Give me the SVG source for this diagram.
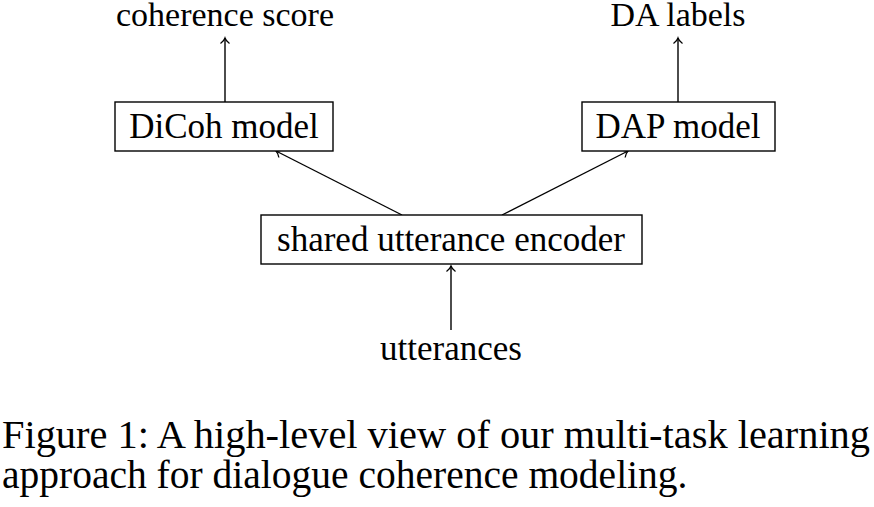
<svg xmlns="http://www.w3.org/2000/svg" width="874" height="507" viewBox="0 0 874 507">
<style>
text{font-family:"Liberation Serif","Times New Roman",serif;fill:#000}
.l{font-size:35px;text-anchor:middle}
.t{font-size:34px}
.c{font-size:39.5px}
rect{fill:#fff;stroke:#000;stroke-width:1.4}
.e{stroke:#000;stroke-width:1.4;fill:none;marker-end:url(#a)}
</style>
<defs>
<marker id="a" markerWidth="14" markerHeight="14" refX="9" refY="5" orient="auto" markerUnits="userSpaceOnUse" overflow="visible">
<path d="M3.5,0.5 Q6,4 9,5 Q6,6 3.5,9.5" fill="none" stroke="#000" stroke-width="1.3"/>
</marker>
</defs>
<g id="connectors">
<path class="e" d="M225,102 V38"/>
<path class="e" d="M678,102 V38"/>
<path class="e" d="M402,215 L276,151"/>
<path class="e" d="M502,215 L628,151"/>
<path class="e" d="M451,330 V266"/>
</g>
<g id="coherence-score"><text class="l t" x="225" y="26">coherence score</text></g>
<g id="da-labels"><text class="l t" x="678" y="26">DA labels</text></g>
<g id="dicoh"><rect x="115" y="102" width="218" height="49"/><text class="l" x="224" y="138">DiCoh model</text></g>
<g id="dap"><rect x="582" y="102" width="193" height="49"/><text class="l" x="678" y="138">DAP model</text></g>
<g id="encoder"><rect x="261" y="215" width="381" height="49"/><text class="l" x="451" y="251">shared utterance encoder</text></g>
<g id="utterances"><text class="l" x="451" y="360">utterances</text></g>
<g id="caption">
<text class="c" x="2" y="448" textLength="868" lengthAdjust="spacingAndGlyphs">Figure 1: A high-level view of our multi-task learning</text>
<text class="c" x="2" y="488">approach for dialogue coherence modeling.</text>
</g>
</svg>
